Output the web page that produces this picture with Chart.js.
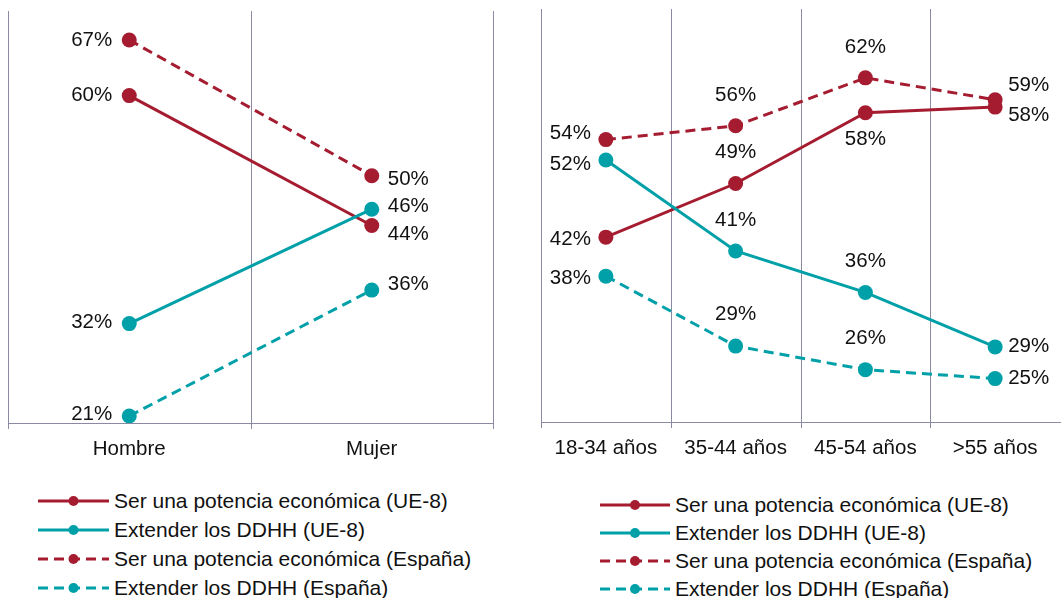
<!DOCTYPE html>
<html>
<head>
<meta charset="utf-8">
<script src="https://cdn.jsdelivr.net/npm/chart.js@4"></script>
<style>
  html, body { margin: 0; padding: 0; background: #fff; width: 1062px; height: 598px; overflow: hidden; position: relative; }
  .wrap { position: absolute; top: 0; }
  .legend { position: absolute; font-family: 'Liberation Sans', Arial, sans-serif; font-size: 21px; color: #111; }
  .legend .row { position: absolute; display: flex; align-items: center; white-space: nowrap; height: 24px; }
  .legend svg { display: block; }
</style>
</head>
<body>
<div class="wrap" style="left:0;width:530px;height:470px;"><canvas id="c1" width="530" height="470"></canvas></div>
<div class="wrap" style="left:530px;width:540px;height:470px;"><canvas id="c2" width="540" height="470"></canvas></div>
<div id="leg1" class="legend"></div>
<div id="leg2" class="legend"></div>
<script>
// ---- Data ----
const seriesNames = [
  'Ser una potencia económica (UE-8)',
  'Extender los DDHH (UE-8)',
  'Ser una potencia económica (España)',
  'Extender los DDHH (España)'
];
const sexCategories = ['Hombre', 'Mujer'];
const sexPotenciaUE = [60.2, 44.3];
const sexDDHHUE = [32.3, 46.3];
const sexPotenciaEs = [67, 50.4];
const sexDDHHEs = [21, 36.4];

const ageCategories = ['18-34 años', '35-44 años', '45-54 años', '>55 años'];
const agePotenciaUE = [42.4, 49.0, 57.7, 58.4];
const ageDDHHUE = [51.9, 40.7, 35.6, 28.9];
const agePotenciaEs = [54.4, 56.1, 62, 59.3];
const ageDDHHEs = [37.6, 29.0, 26.1, 25];

// ---- Styles ----
const RED = '#A51C30';
const TEAL = '#00A0A8';
const GRID = '#8a8aa2';
const TXT = '#111111';
const FONT = "'Liberation Sans', Arial, sans-serif";
const seriesColors = [RED, TEAL, RED, TEAL];
const seriesDash = [[], [], [10, 6], [10, 6]];

// Vertical category-boundary lines, placed from the x scale's own tick pixels
const boundaryPlugin = {
  id: 'boundaryLines',
  beforeDatasetsDraw(chart, args, opts) {
    const xs = chart.scales.x;
    const area = chart.chartArea;
    const n = xs.ticks.length;
    const ctx = chart.ctx;
    ctx.save();
    ctx.strokeStyle = GRID;
    ctx.lineWidth = 1;
    const last = opts.hideLast ? n - 1 : n;
    for (let i = 0; i <= last; i++) {
      let x;
      if (i === 0) x = area.left;
      else if (i === n) x = area.right;
      else x = (xs.getPixelForTick(i - 1) + xs.getPixelForTick(i)) / 2;
      x = Math.round(x) + 0.5;
      ctx.beginPath();
      ctx.moveTo(x, area.top);
      ctx.lineTo(x, area.bottom + 6);
      ctx.stroke();
    }
    ctx.restore();
  }
};

const labelPlugin = {
  id: 'pointLabels',
  afterDatasetsDraw(chart) {
    const ctx = chart.ctx;
    ctx.save();
    ctx.font = '20.5px ' + FONT;
    ctx.fillStyle = TXT;
    ctx.textBaseline = 'middle';
    chart.data.datasets.forEach((ds, di) => {
      const meta = chart.getDatasetMeta(di);
      meta.data.forEach((pt, i) => {
        const [pos, gap, dy] = ds.labelPlace[i];
        const text = Math.round(ds.data[i]) + '%';
        let x = pt.x, y = pt.y;
        if (pos === 'left') { ctx.textAlign = 'right'; x -= gap; }
        else if (pos === 'right') { ctx.textAlign = 'left'; x += gap; }
        else if (pos === 'above') { ctx.textAlign = 'center'; y -= gap; }
        else { ctx.textAlign = 'center'; y += gap; }
        ctx.fillText(text, x, y + dy);
      });
    });
    ctx.restore();
  }
};

function makeDatasets(seriesData, places) {
  return seriesData.map((d, i) => ({
    label: seriesNames[i],
    data: d,
    borderColor: seriesColors[i],
    backgroundColor: seriesColors[i],
    pointBackgroundColor: seriesColors[i],
    pointBorderWidth: 0,
    pointRadius: 7.5,
    borderWidth: 3,
    borderDash: seriesDash[i],
    tension: 0,
    fill: false,
    order: 10 - i,
    labelPlace: places[i]
  }));
}

function makeChart(id, labels, datasets, pad, yMin, yMax, axisH, hideLast) {
  return new Chart(document.getElementById(id), {
    type: 'line',
    data: { labels: labels, datasets: datasets },
    plugins: [boundaryPlugin, labelPlugin],
    options: {
      responsive: false,
      animation: false,
      events: [],
      layout: { padding: pad },
      plugins: {
        legend: { display: false },
        tooltip: { enabled: false },
        boundaryLines: { hideLast: hideLast }
      },
      scales: {
        x: {
          offset: true,
          grid: { display: false },
          border: { display: true, color: GRID, width: 1 },
          ticks: { color: TXT, font: { family: FONT, size: 20.5 }, padding: 6, maxRotation: 0 },
          afterFit: (s) => { s.height = axisH; }
        },
        y: { display: false, min: yMin, max: yMax }
      }
    }
  });
}

const sexPlaces = [
  [['left', 17, 0], ['right', 16, 9]],
  [['left', 17, -1], ['right', 16, -3]],
  [['left', 17, 0], ['right', 16, 4]],
  [['left', 17, -2], ['right', 16, -6]]
];
const agePlaces = [
  [['left', 15, 2], ['above', 31, 0], ['below', 27, 0], ['right', 13, 8]],
  [['left', 15, 4], ['above', 31, 0], ['above', 31, 0], ['right', 13, -1]],
  [['left', 15, -6], ['above', 30, 0], ['above', 31, 0], ['right', 13, -14]],
  [['left', 15, 2], ['above', 32, 0], ['above', 31, 0], ['right', 13, 0]]
];

makeChart('c1', sexCategories,
  makeDatasets([sexPotenciaUE, sexDDHHUE, sexPotenciaEs, sexDDHHEs], sexPlaces),
  { left: 8, right: 37, top: 11, bottom: 0 }, 20.14, 70.55, 47, false);

makeChart('c2', ageCategories,
  makeDatasets([agePotenciaUE, ageDDHHUE, agePotenciaEs, ageDDHHEs], agePlaces),
  { left: 11, right: 10, top: 9, bottom: 0 }, 19.66, 70.47, 48, true);

// ---- Legends ----
function buildLegend(id, left, textLeft, top, step) {
  const el = document.getElementById(id);
  el.style.left = '0px'; el.style.top = '0px';
  seriesNames.forEach((name, i) => {
    const row = document.createElement('div');
    row.className = 'row';
    row.style.left = left + 'px';
    row.style.top = (top + i * step - 12) + 'px';
    const w = textLeft - left - 5;
    const dash = seriesDash[i].length ? `stroke-dasharray="${seriesDash[i].join(' ')}"` : '';
    row.innerHTML =
      `<svg width="${w}" height="12" style="margin-right:5px"><line x1="0" y1="6" x2="${w}" y2="6" stroke="${seriesColors[i]}" stroke-width="3" ${dash}/><circle cx="${w / 2}" cy="6" r="5" fill="${seriesColors[i]}"/></svg><span>${name}</span>`;
    el.appendChild(row);
  });
}
buildLegend('leg1', 38, 114, 500.5, 29.2);
buildLegend('leg2', 600, 675, 504.5, 28);
</script>
</body>
</html>
